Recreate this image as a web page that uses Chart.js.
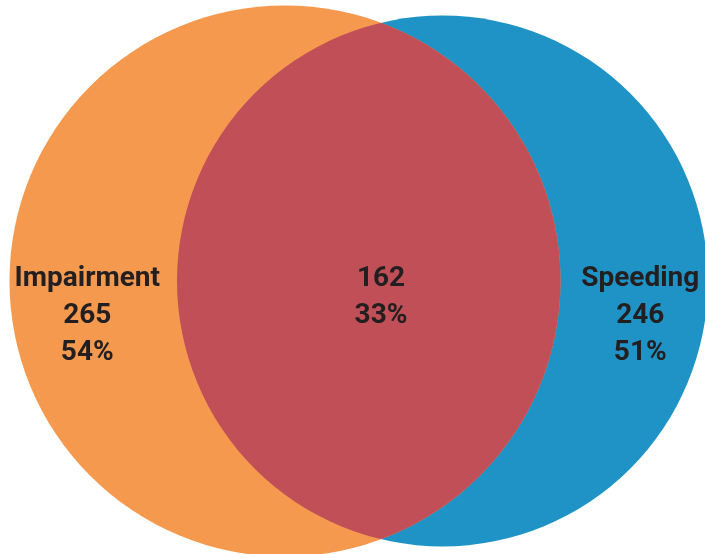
<!DOCTYPE html>
<html>
<head>
<meta charset="utf-8">
<script src="https://cdn.jsdelivr.net/npm/chart.js"></script>
<style>
  html, body { margin: 0; padding: 0; background: #fff; }
  #wrap { width: 705px; height: 554px; }
</style>
</head>
<body>
<div id="wrap"><canvas id="venn"></canvas></div>
<script>
// Datos del diagrama
const setNames = ['Impairment', 'Speeding'];
const setCounts = [265, 246];
const setPercents = [54, 51];
const overlapCount = 162;
const overlapPercent = 33;

const setColors = ['#f5994f', '#1f93c5'];
const overlapColor = '#c14f57';
const textColor = '#231f20';

// radio de cada circulo: area proporcional al conteo
const radii = setCounts.map(c => Math.sqrt(c / Math.PI));

function lensArea(d, r1, r2) {
    if (d >= r1 + r2) return 0;
    if (d <= Math.abs(r1 - r2)) return Math.PI * Math.min(r1, r2) ** 2;
    const a1 = Math.acos((d * d + r1 * r1 - r2 * r2) / (2 * d * r1));
    const a2 = Math.acos((d * d + r2 * r2 - r1 * r1) / (2 * d * r2));
    const k = Math.sqrt((-d + r1 + r2) * (d + r1 - r2) * (d - r1 + r2) * (d + r1 + r2));
    return r1 * r1 * a1 + r2 * r2 * a2 - 0.5 * k;
}

// distancia entre centros para que la interseccion tenga el area del overlap
let lo = Math.abs(radii[0] - radii[1]), hi = radii[0] + radii[1];
for (let i = 0; i < 60; i++) {
    const mid = (lo + hi) / 2;
    if (lensArea(mid, radii[0], radii[1]) > overlapCount) lo = mid; else hi = mid;
}
const dist = (lo + hi) / 2;

const PX = 30; // pixeles por unidad
const xMax = 705 / PX, yMax = 554 / PX;
const cx0 = 9.5, cy = 9.1;

// radio en pixeles a partir de la escala x
function rPix(chart, r) {
    const s = chart.scales.x;
    if (!s) return 0;
    const v = s.getPixelForValue(r) - s.getPixelForValue(0);
    return isFinite(v) && v > 0 ? v : 0;
}

const vennPlugin = {
    id: 'vennOverlap',
    afterDatasetsDraw(chart) {
        const ctx = chart.ctx;
        const a = chart.getDatasetMeta(0).data[0];
        const b = chart.getDatasetMeta(1).data[0];
        const ra = rPix(chart, radii[0]), rb = rPix(chart, radii[1]);

        // interseccion
        ctx.save();
        ctx.beginPath();
        ctx.arc(a.x, a.y, ra, 0, Math.PI * 2);
        ctx.clip();
        ctx.beginPath();
        ctx.arc(b.x, b.y, rb, 0, Math.PI * 2);
        ctx.fillStyle = overlapColor;
        ctx.fill();
        ctx.restore();

        // etiquetas
        const dpx = b.x - a.x;
        const chordX = a.x + (dpx * dpx + ra * ra - rb * rb) / (2 * dpx);
        const leftX = ((a.x - ra) + (b.x - rb)) / 2 - 6;
        const rightX = ((a.x + ra) + (b.x + rb)) / 2 + 6;
        const y0 = 279, lh = 37;

        ctx.save();
        ctx.fillStyle = textColor;
        ctx.font = '700 28px Roboto, "DejaVu Sans", sans-serif';
        ctx.textAlign = 'center';
        ctx.textBaseline = 'middle';
        ctx.fillText(setNames[0], leftX, y0);
        ctx.fillText(String(setCounts[0]), leftX, y0 + lh);
        ctx.fillText(setPercents[0] + '%', leftX, y0 + lh * 2);
        ctx.fillText(setNames[1], rightX, y0);
        ctx.fillText(String(setCounts[1]), rightX, y0 + lh);
        ctx.fillText(setPercents[1] + '%', rightX, y0 + lh * 2);
        ctx.fillText(String(overlapCount), chordX, y0);
        ctx.fillText(overlapPercent + '%', chordX, y0 + lh);
        ctx.restore();
    }
};

new Chart(document.getElementById('venn'), {
    type: 'scatter',
    data: {
        datasets: setNames.map((name, i) => ({
            label: name,
            data: [{ x: i === 0 ? cx0 : cx0 + dist, y: cy }],
            showLine: false,
            pointBackgroundColor: setColors[i],
            pointBorderWidth: 0,
            clip: false,
            pointRadius: ctx => rPix(ctx.chart, radii[i]),
            pointHoverRadius: ctx => rPix(ctx.chart, radii[i])
        }))
    },
    options: {
        responsive: true,
        maintainAspectRatio: false,
        animation: false,
        events: [],
        layout: { padding: 0, autoPadding: false },
        scales: {
            x: { type: 'linear', min: 0, max: xMax, display: false },
            y: { type: 'linear', min: 0, max: yMax, display: false }
        },
        plugins: {
            legend: { display: false },
            tooltip: { enabled: false }
        }
    },
    plugins: [vennPlugin]
});
</script>
</body>
</html>
